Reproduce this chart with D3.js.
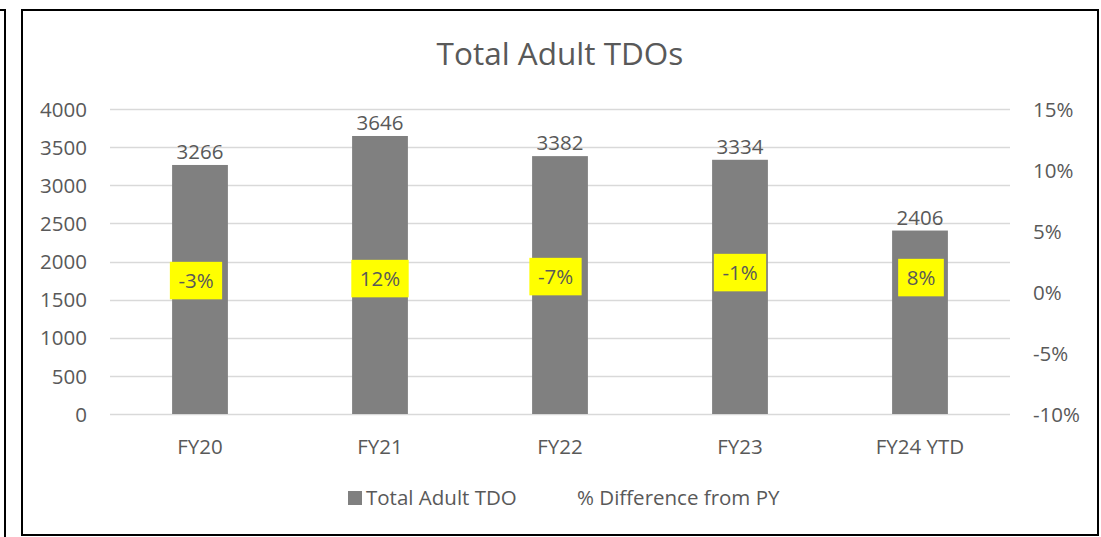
<!DOCTYPE html>
<html>
<head>
<meta charset="utf-8">
<script src="https://cdn.jsdelivr.net/npm/d3@7"></script>
<style>
  body { margin: 0; background: #fff; }
  svg text { font-family: "Open Sans", sans-serif; fill: #595959; }
</style>
</head>
<body>
<svg class="chart" width="1101" height="537"></svg>
<script>
var categories = ["FY20", "FY21", "FY22", "FY23", "FY24 YTD"];
var totals = [3266, 3646, 3382, 3334, 2406];
var pctDiff = [-0.03, 0.12, -0.07, -0.01, 0.08];
var leftTicks = [0, 500, 1000, 1500, 2000, 2500, 3000, 3500, 4000];
var rightTicks = [-0.10, -0.05, 0, 0.05, 0.10, 0.15];

var pct = d => Math.round(d * 100) + "%";
var fs = "20.5px";

var svg = d3.select(".chart");

// outer frames
svg.append("path")
  .attr("d", "M0,10H5V537")
  .attr("fill", "none").attr("stroke", "#000").attr("stroke-width", 2);
svg.append("rect")
  .attr("x", 22).attr("y", 10).attr("width", 1076).attr("height", 525)
  .attr("fill", "#fff").attr("stroke", "#000").attr("stroke-width", 2);

var margin = { left: 110, right: 1010, top: 109, bottom: 414 };

var x = d3.scaleBand()
  .domain(categories)
  .range([margin.left, margin.right])
  .paddingInner(0.69).paddingOuter(0.345);

var y = d3.scaleLinear().domain([0, 4000]).range([margin.bottom, margin.top]);
var yR = d3.scaleLinear().domain([-0.10, 0.15]).range([margin.bottom, margin.top]);

// gridlines
svg.append("g")
  .selectAll("line")
  .data(leftTicks)
  .enter().append("line")
  .attr("x1", margin.left).attr("x2", margin.right)
  .attr("y1", d => Math.round(y(d)) + 0.5).attr("y2", d => Math.round(y(d)) + 0.5)
  .attr("stroke", "#d9d9d9").attr("stroke-width", 1.5);

// left axis
var yAxis = d3.axisLeft(y).tickValues(leftTicks).tickSize(0).tickPadding(0).tickFormat(d3.format("d"));
var gl = svg.append("g").attr("transform", "translate(87,0)").call(yAxis);
gl.select(".domain").remove();
gl.selectAll(".tick text").style("font-size", fs).attr("fill", "#595959").attr("dy", "0.35em");

// right axis
var yAxisR = d3.axisRight(yR).tickValues(rightTicks).tickSize(0).tickPadding(0).tickFormat(pct);
var gr = svg.append("g").attr("transform", "translate(1033,0)").call(yAxisR);
gr.select(".domain").remove();
gr.selectAll(".tick text").style("font-size", fs).attr("fill", "#595959").attr("dy", "0.35em");

// x labels
var xAxis = d3.axisBottom(x).tickSize(0).tickPadding(0);
var gx = svg.append("g").attr("transform", "translate(0,440)").call(xAxis);
gx.select(".domain").remove();
gx.selectAll(".tick text").style("font-size", fs).attr("fill", "#595959").attr("dy", "0.7em");

// bars
svg.append("g")
  .selectAll("rect")
  .data(totals)
  .enter().append("rect")
  .attr("x", (d, i) => x(categories[i]))
  .attr("width", x.bandwidth())
  .attr("y", d => y(d))
  .attr("height", d => y(0) - y(d))
  .attr("fill", "#808080");

// bar value labels
svg.append("g")
  .selectAll("text")
  .data(totals)
  .enter().append("text")
  .attr("x", (d, i) => x(categories[i]) + x.bandwidth() / 2)
  .attr("y", d => y(d) - 6)
  .attr("text-anchor", "middle")
  .style("font-size", fs)
  .attr("fill", "#404040")
  .text(d => d);

// % difference labels (series line hidden, labels moved by hand in the original)
var nudge = [[-4, 2], [0, 0], [-4.5, -2], [0, -6], [1, -1]];
var pl = svg.append("g")
  .selectAll("g")
  .data(pctDiff)
  .enter().append("g")
  .attr("transform", (d, i) => "translate(" + (x(categories[i]) + x.bandwidth() / 2 + nudge[i][0]) + "," + (yR(0.011) + nudge[i][1]) + ")");
pl.append("rect").attr("fill", "#ffff00");
pl.append("text")
  .attr("text-anchor", "middle")
  .attr("dy", "0.35em")
  .style("font-size", fs)
  .attr("fill", "#404040")
  .text(pct);
pl.each(function() {
  var g = d3.select(this);
  var w = g.select("text").node().getComputedTextLength() + 17;
  g.select("rect").attr("x", -w / 2).attr("y", -18.75).attr("width", w).attr("height", 37.5);
});

// title
svg.append("text")
  .attr("x", 560).attr("y", 65)
  .attr("text-anchor", "middle")
  .style("font-size", "31.5px")
  .text("Total Adult TDOs");

// legend
var lg = svg.append("g");
lg.append("rect").attr("x", 348).attr("y", 491).attr("width", 14).attr("height", 14).attr("fill", "#808080");
lg.append("text").attr("x", 366).attr("y", 505).style("font-size", fs).text("Total Adult TDO");
lg.append("text").attr("x", 577).attr("y", 505).style("font-size", fs).text("% Difference from PY");
</script>
</body>
</html>
